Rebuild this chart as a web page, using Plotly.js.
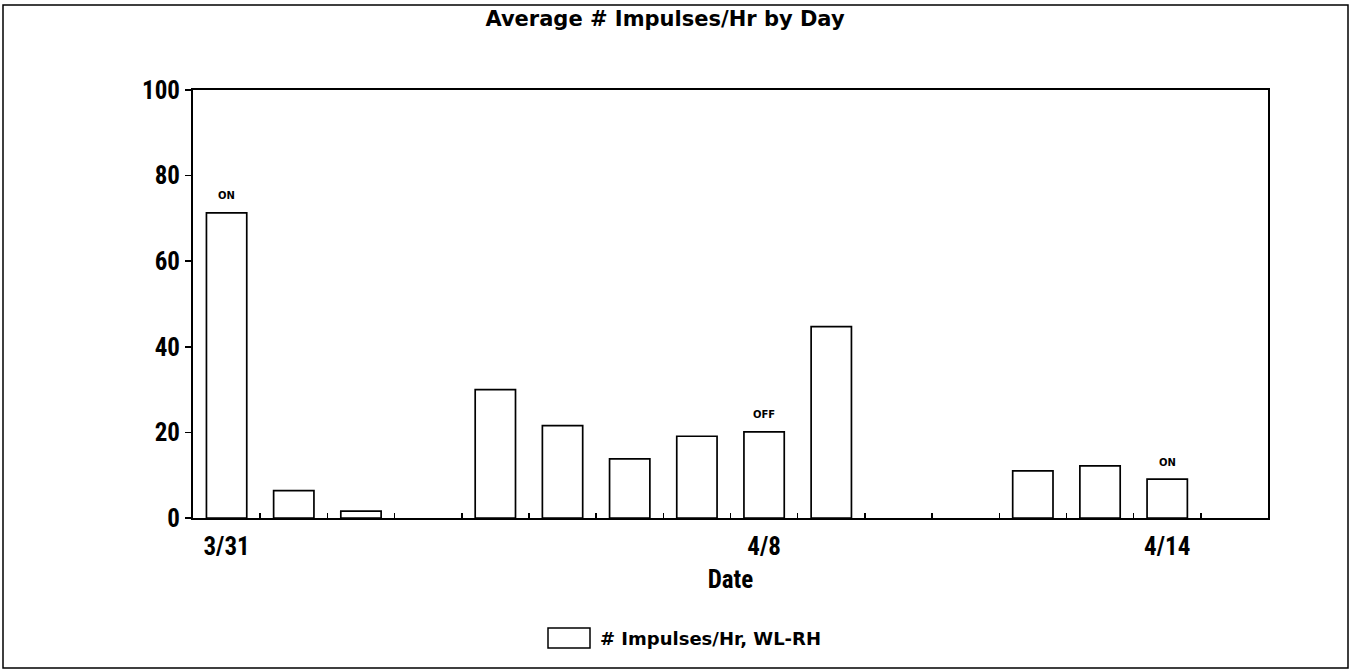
<!DOCTYPE html>
<html>
<head>
<meta charset="utf-8">
<script src="https://cdn.plot.ly/plotly-3.0.1.min.js"></script>
<style>html,body{margin:0;padding:0;background:#fff;}#chart{width:1352px;height:671px;}</style>
</head>
<body>
<div id="chart"></div>
<script>
const dates = ['3/31','4/1','4/2','4/3','4/4','4/5','4/6','4/7','4/8','4/9','4/10','4/11','4/12','4/13','4/14','4/15'];
const impulses = [71.3, 6.4, 1.6, null, 30, 21.6, 13.8, 19.1, 20.1, 44.7, null, null, 11, 12.2, 9.1, null];
const statusLabels = ['ON','','','','','','','','OFF','','','','','','ON',''];
const shownDates = ['3/31','4/8','4/14'];
const yTicks = [0, 20, 40, 60, 80, 100];
const seriesName = '# Impulses/Hr, WL-RH';

const W = 1352, H = 671;
const M = {l: 193, r: 84, t: 90, b: 153};
const pw = W - M.l - M.r, ph = H - M.t - M.b;
const px = v => (v - M.l) / pw;       // pixel -> paper x
const py = v => (H - M.b - v) / ph;   // pixel -> paper y

const narrow = 'Liberation Sans Narrow, Arial Narrow, Roboto Condensed, sans-serif';

const trace = {
  type: 'bar',
  x: dates,
  y: impulses,
  name: seriesName,
  width: 0.6,
  marker: {color: '#ffffff', line: {color: '#000000', width: 1.7}},
  showlegend: false,
  hoverinfo: 'x+y'
};

const statusAnnotations = dates
  .map((d, i) => ({d, i}))
  .filter(o => statusLabels[o.i])
  .map(o => ({
    xref: 'x', yref: 'y', x: o.d, y: impulses[o.i],
    text: statusLabels[o.i], showarrow: false,
    xanchor: 'center', yanchor: 'middle', yshift: 17,
    font: {family: 'DejaVu Sans, sans-serif', size: 10, color: '#000', weight: 'bold'}
  }));

const layout = {
  width: W, height: H,
  margin: M,
  paper_bgcolor: '#fff', plot_bgcolor: '#fff',
  title: {
    text: 'Average # Impulses/Hr by Day',
    font: {family: 'DejaVu Sans, sans-serif', size: 21, color: '#000', weight: 'bold'},
    x: 665 / W, xanchor: 'center', y: 1 - 19 / H, yanchor: 'middle'
  },
  xaxis: {
    type: 'category',
    categoryorder: 'array', categoryarray: dates,
    tickmode: 'array',
    tickvals: dates,
    ticktext: dates.map(d => shownDates.includes(d) ? d : ''),
    tickson: 'boundaries',
    ticks: 'inside', ticklen: 5, tickwidth: 1.5, tickcolor: '#000',
    ticklabelstandoff: 5,
    showline: true, linecolor: '#000', linewidth: 2, mirror: true,
    showgrid: false, zeroline: false,
    tickfont: {family: narrow, size: 25, color: '#000', weight: 'bold'},
    title: {text: 'Date', font: {family: narrow, size: 25, color: '#000', weight: 'bold'}, standoff: 10},
    fixedrange: true
  },
  yaxis: {
    range: [0, 100],
    tickmode: 'array', tickvals: yTicks,
    ticks: 'outside', ticklen: 6, tickwidth: 1.5, tickcolor: '#000',
    showline: true, linecolor: '#000', linewidth: 2, mirror: true,
    showgrid: false, zeroline: false,
    tickfont: {family: narrow, size: 25, color: '#000', weight: 'bold'},
    fixedrange: true
  },
  showlegend: false,
  shapes: [
    {type: 'rect', xref: 'paper', yref: 'paper',
     x0: px(3), x1: px(1348), y0: py(668), y1: py(5),
     line: {color: '#000', width: 1.5}, fillcolor: 'rgba(0,0,0,0)', layer: 'below'},
    {type: 'rect', xref: 'paper', yref: 'paper',
     x0: px(548), x1: px(590), y0: py(648), y1: py(628),
     line: {color: '#000', width: 1.5}, fillcolor: '#fff'}
  ],
  annotations: statusAnnotations.concat([
    {xref: 'paper', yref: 'paper', x: px(598), y: py(638), xanchor: 'left', yanchor: 'middle',
     text: seriesName, showarrow: false,
     font: {family: 'DejaVu Sans, sans-serif', size: 18, color: '#000', weight: 'bold'}}
  ])
};

Plotly.newPlot('chart', [trace], layout, {staticPlot: true, displayModeBar: false});
</script>
</body>
</html>
